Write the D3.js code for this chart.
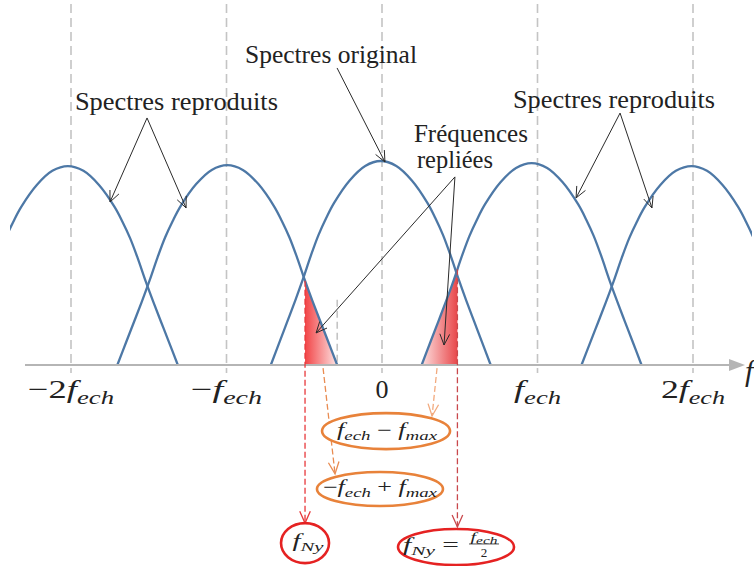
<!DOCTYPE html>
<html><head><meta charset="utf-8">
<script src="https://cdn.jsdelivr.net/npm/d3@7"></script>
<style>body{margin:0;background:#fff;}svg{display:block;}</style>
</head><body>
<script>
// ---------- data (frequency in units of f_ech, amplitude relative) ----------
const tickValues = [-2, -1, 0, 1, 2];
const tickPrefix = ["−2", "−", "0", "", "2"];
const tickHasF   = [true, true, false, true, true];
const spectrumNames   = ["reproduit -2", "reproduit -1", "original", "reproduit +1", "reproduit +2"];
const spectrumCenters = [-2.02, -0.995, -0.008, 0.962, 1.99];
const spectrumPeaks   = [0.975, 0.98, 1.0, 0.99, 0.975];
const profileOffsets  = [0, 0.1, 0.2, 0.3, 0.35, 0.4, 0.45, 0.5, 0.55, 0.6, 0.65, 0.707];
const profileHeights  = [1, 0.976, 0.905, 0.795, 0.722, 0.638, 0.535, 0.422, 0.316, 0.215, 0.115, 0];
const nyquistFreqs    = [-0.495, 0.485];
const fmaxMarker      = -0.288;   // -f_ech + f_max

// annotation anchor points, in data units [freq, amplitude]
const labelOriginal   = [-0.328, 1.48];
const labelReproL     = [-1.322, 1.25];
const labelReproR     = [1.492, 1.26];
const labelFreq1      = [0.572, 1.093];
const labelFreq2      = [0.469, 0.966];
const arrowsOriginal  = [[[-0.289, 1.456], [0.019, 0.995]]];
const arrowsReproL    = [[[-1.511, 1.211], [-1.749, 0.799]], [[-1.511, 1.211], [-1.260, 0.770]]];
const arrowsReproR    = [[[1.531, 1.235], [1.248, 0.819]], [[1.531, 1.235], [1.736, 0.770]]];
const arrowsFolded    = [[[0.469, 0.922], [-0.424, 0.157]], [[0.469, 0.922], [0.399, 0.098]]];
const ellipseFmaxA    = [0.026, -0.324];
const ellipseFmaxB    = [-0.013, -0.608];
const ellipseNyA      = [-0.495, -0.873];
const ellipseNyB      = [0.476, -0.892];
const orangeArrowB    = [[-0.379, -0.015], [-0.302, -0.534]];
const orangeArrowA    = [[0.354, -0.015], [0.322, -0.25]];
const redArrowTips    = [-0.775, -0.794];
const tickLabelLevel  = -0.162;

// ---------- setup ----------
const W = 754, H = 566;
const svg = d3.select("body").append("svg").attr("width", W).attr("height", H);
const x = d3.scaleLinear().domain([-2, 2]).range([71, 693]);
const y = d3.scaleLinear().domain([0, 1]).range([365, 161]);
const SERIF = "Liberation Serif, Times New Roman, serif";
const defs = svg.append("defs");

function prof(d) {
  d = Math.abs(d);
  const n = profileOffsets.length;
  if (d >= profileOffsets[n - 1]) return 0;
  for (let i = 1; i < n; i++) {
    if (d <= profileOffsets[i]) {
      const t = (d - profileOffsets[i - 1]) / (profileOffsets[i] - profileOffsets[i - 1]);
      return profileHeights[i - 1] + t * (profileHeights[i] - profileHeights[i - 1]);
    }
  }
  return 0;
}
function humpPoints(i) {
  const offs = profileOffsets.slice(1).reverse().map(o => -o).concat(profileOffsets);
  return offs.map(o => [spectrumCenters[i] + o, spectrumPeaks[i] * prof(o)]);
}
const curve = d3.curveCatmullRom.alpha(0.5);
const line = d3.line().x(d => x(d[0])).y(d => y(d[1])).curve(curve);
const area = d3.area().x(d => x(d[0])).y0(y(0)).y1(d => y(d[1])).curve(curve);

defs.append("clipPath").attr("id", "plotclip").append("rect")
  .attr("x", 10).attr("y", 0).attr("width", 742).attr("height", H);

// ---------- grid dashed verticals ----------
svg.append("g").selectAll("line").data(tickValues).join("line")
  .attr("x1", d => x(d)).attr("x2", d => x(d))
  .attr("y1", 4).attr("y2", 373)
  .attr("stroke", "#c4c4c4").attr("stroke-width", 1.6).attr("stroke-dasharray", "9,5");
svg.append("line")
  .attr("x1", x(fmaxMarker)).attr("x2", x(fmaxMarker))
  .attr("y1", y(0.32)).attr("y2", y(0))
  .attr("stroke", "#c4c4c4").attr("stroke-width", 1.6).attr("stroke-dasharray", "7,4");

// ---------- shaded aliased regions ----------
const leftEnd  = spectrumCenters[1] + profileOffsets[profileOffsets.length - 1];
const rightEnd = spectrumCenters[3] - profileOffsets[profileOffsets.length - 1];
const gL = defs.append("linearGradient").attr("id", "gradL").attr("gradientUnits", "userSpaceOnUse")
  .attr("x1", x(nyquistFreqs[0])).attr("x2", x(leftEnd)).attr("y1", 0).attr("y2", 0);
gL.append("stop").attr("offset", "0%").attr("stop-color", "#f24446");
gL.append("stop").attr("offset", "100%").attr("stop-color", "#fde4e4");
const gR = defs.append("linearGradient").attr("id", "gradR").attr("gradientUnits", "userSpaceOnUse")
  .attr("x1", x(rightEnd)).attr("x2", x(nyquistFreqs[1])).attr("y1", 0).attr("y2", 0);
gR.append("stop").attr("offset", "0%").attr("stop-color", "#fde0e0");
gR.append("stop").attr("offset", "100%").attr("stop-color", "#e8474a");

defs.append("clipPath").attr("id", "clipL").append("rect")
  .attr("x", x(nyquistFreqs[0])).attr("y", 0).attr("width", x(-0.1) - x(nyquistFreqs[0])).attr("height", H);
defs.append("clipPath").attr("id", "clipR").append("rect")
  .attr("x", x(0.1)).attr("y", 0).attr("width", x(nyquistFreqs[1]) - x(0.1)).attr("height", H);

svg.append("path").attr("d", area(humpPoints(1))).attr("clip-path", "url(#clipL)")
  .attr("fill", "url(#gradL)");
svg.append("path").attr("d", area(humpPoints(3))).attr("clip-path", "url(#clipR)")
  .attr("fill", "url(#gradR)");

// ---------- spectra ----------
svg.append("g").attr("clip-path", "url(#plotclip)")
  .selectAll("path").data(spectrumNames).join("path")
  .attr("d", (d, i) => line(humpPoints(i)))
  .attr("fill", "none").attr("stroke", "#4d78a6").attr("stroke-width", 2.3);

// ---------- axis ----------
svg.append("line").attr("x1", 25).attr("x2", 731).attr("y1", y(0)).attr("y2", y(0))
  .attr("stroke", "#b5b5b5").attr("stroke-width", 2);
svg.append("path").attr("d", `M729,${y(0) - 6}L745,${y(0)}L729,${y(0) + 6}Z`).attr("fill", "#b5b5b5");
svg.append("text").attr("x", 745).attr("y", 381).attr("font-family", SERIF)
  .attr("font-style", "italic").attr("font-size", 30).attr("fill", "#222").text("f");

// ---------- math text helper ----------
function mathText(px, py, parts, size, subSize, width, color) {
  const t = svg.append("text").attr("x", px).attr("y", py).attr("text-anchor", "middle")
    .attr("font-family", SERIF).attr("font-size", size).attr("fill", color || "#222");
  let shifted = 0;
  parts.forEach(p => {
    const ts = t.append("tspan").text(p.t);
    if (p.it) ts.attr("font-style", "italic");
    if (p.sub) {
      ts.attr("font-size", subSize).attr("dy", p.shift - shifted); shifted = p.shift;
    } else if (shifted) {
      ts.attr("dy", -shifted); shifted = 0;
    }
  });
  if (width) t.attr("textLength", width).attr("lengthAdjust", "spacingAndGlyphs");
  return t;
}

// tick labels
const tickWidths = [86, 71, 13, 47, 64];
tickValues.forEach((v, i) => {
  const parts = [];
  if (tickPrefix[i]) parts.push({ t: tickPrefix[i] });
  if (tickHasF[i]) { parts.push({ t: "f", it: true }); parts.push({ t: "ech", it: true, sub: true, shift: 6 }); }
  mathText(x(v), y(tickLabelLevel), parts, 26, 19, tickWidths[i]);
});

// ---------- annotation labels ----------
function label(pt, txt, width) {
  svg.append("text").attr("x", x(pt[0])).attr("y", y(pt[1])).attr("text-anchor", "middle")
    .attr("font-family", SERIF).attr("font-size", 25).attr("fill", "#222")
    .attr("textLength", width).attr("lengthAdjust", "spacingAndGlyphs").text(txt);
}
label(labelOriginal, "Spectres original", 172);
label(labelReproL, "Spectres reproduits", 203);
label(labelReproR, "Spectres reproduits", 202);
label(labelFreq1, "Fréquences", 114);
label(labelFreq2, "repliées", 76);

// ---------- arrows ----------
function arrow(a, b, color, width, dash, headLen) {
  const x1 = x(a[0]), y1 = y(a[1]), x2 = x(b[0]), y2 = y(b[1]);
  svg.append("line").attr("x1", x1).attr("y1", y1).attr("x2", x2).attr("y2", y2)
    .attr("stroke", color).attr("stroke-width", width).attr("stroke-dasharray", dash || null);
  const ang = Math.atan2(y2 - y1, x2 - x1), spread = 0.42;
  const p1 = [x2 - headLen * Math.cos(ang - spread), y2 - headLen * Math.sin(ang - spread)];
  const p2 = [x2 - headLen * Math.cos(ang + spread), y2 - headLen * Math.sin(ang + spread)];
  svg.append("path").attr("d", `M${p1[0]},${p1[1]}L${x2},${y2}L${p2[0]},${p2[1]}`)
    .attr("fill", "none").attr("stroke", color).attr("stroke-width", width);
}
[...arrowsOriginal, ...arrowsReproL, ...arrowsReproR, ...arrowsFolded]
  .forEach(a => arrow(a[0], a[1], "#2a2a2a", 1, null, 12));

// red dashed Nyquist lines
const redCols = ["#e8383b", "#c9484c"];
nyquistFreqs.forEach((f, i) => {
  const k = i === 0 ? 1 : 3;
  const top = spectrumPeaks[k] * prof(f - spectrumCenters[k]);
  arrow([f, top], [f, redArrowTips[i]], redCols[i], 1.3, "6,3", 13);
});
// orange dashed arrows
arrow(orangeArrowB[0], orangeArrowB[1], "#e98c52", 1.3, "6,3", 13);
arrow(orangeArrowA[0], orangeArrowA[1], "#f2aa7e", 1.3, "6,3", 13);

// ---------- ellipses ----------
function ell(c, rx, ry, color) {
  svg.append("ellipse").attr("cx", x(c[0])).attr("cy", y(c[1])).attr("rx", rx).attr("ry", ry)
    .attr("fill", "#fff").attr("stroke", color).attr("stroke-width", 2.6);
}
ell(ellipseFmaxA, 64, 18, "#e8823a");
ell(ellipseFmaxB, 63, 17, "#e8823a");
ell(ellipseNyA, 24, 20, "#e52222");
ell(ellipseNyB, 58, 18, "#e52222");

mathText(x(ellipseFmaxA[0]) + 1, y(ellipseFmaxA[1]) + 5,
  [{ t: "f", it: true }, { t: "ech", it: true, sub: true, shift: 4 }, { t: " − " }, { t: "f", it: true }, { t: "max", it: true, sub: true, shift: 4 }],
  18, 13, 100);
mathText(x(ellipseFmaxB[0]), y(ellipseFmaxB[1]) + 4,
  [{ t: "−" }, { t: "f", it: true }, { t: "ech", it: true, sub: true, shift: 4 }, { t: " + " }, { t: "f", it: true }, { t: "max", it: true, sub: true, shift: 4 }],
  18, 13, 114);
mathText(x(ellipseNyA[0]) + 3, y(ellipseNyA[1]) + 4,
  [{ t: "f", it: true }, { t: "Ny", it: true, sub: true, shift: 4 }], 18, 13, 31);
const cxB = x(ellipseNyB[0]), cyB = y(ellipseNyB[1]);
mathText(cxB - 25, cyB + 4,
  [{ t: "f", it: true }, { t: "Ny", it: true, sub: true, shift: 4 }, { t: "  =" }], 18, 13, 56);
mathText(cxB + 28, cyB - 6, [{ t: "f", it: true }, { t: "ech", it: true, sub: true, shift: 3 }], 13, 10, 27);
svg.append("line").attr("x1", cxB + 13).attr("x2", cxB + 43).attr("y1", cyB - 3).attr("y2", cyB - 3)
  .attr("stroke", "#222").attr("stroke-width", 0.8);
mathText(cxB + 28, cyB + 10, [{ t: "2" }], 13, 10, null);
</script>
</body></html>
